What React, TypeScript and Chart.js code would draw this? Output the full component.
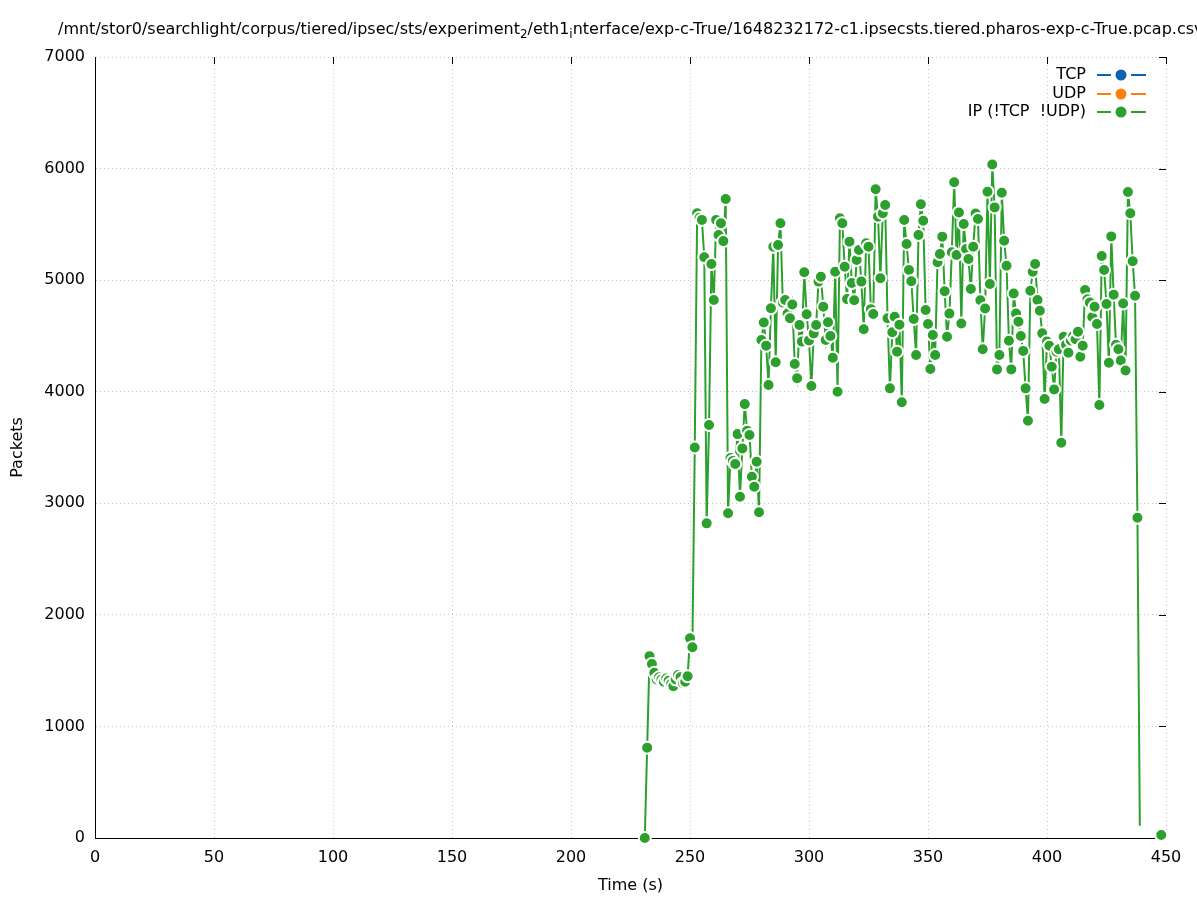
import React, { useEffect, useRef } from "react";
import { Chart, registerables } from "chart.js";

Chart.register(...registerables);

// ---------- text ----------
const TITLE_PARTS = [
  { text: "/mnt/stor0/searchlight/corpus/tiered/ipsec/sts/experiment", sub: false },
  { text: "2", sub: true },
  { text: "/eth1", sub: false },
  { text: "i", sub: true },
  { text: "nterface/exp-c-True/1648232172-c1.ipsecsts.tiered.pharos-exp-c-True.pcap.csv", sub: false },
];
const X_LABEL = "Time (s)";
const Y_LABEL = "Packets";
const SERIES_NAMES = ["TCP", "UDP", "IP (!TCP  !UDP)"];

// ---------- ticks ----------
const X_TICKS = [0, 50, 100, 150, 200, 250, 300, 350, 400, 450];
const Y_TICKS = [0, 1000, 2000, 3000, 4000, 5000, 6000, 7000];

// ---------- data ----------
const TCP_TIMES: number[] = [];
const TCP_PACKETS: number[] = [];
const UDP_TIMES: number[] = [];
const UDP_PACKETS: number[] = [];

// IP (!TCP !UDP): one sample per second starting at 231 s
const IP_START_TIME = 231;
const IP_PACKETS = [
  0, 810, 1630, 1560, 1480, 1420, 1440, 1420, 1400, 1430,
  1410, 1380, 1360, 1420, 1460, 1440, 1390, 1400, 1450, 1790,
  1710, 3500, 5600, 5560, 5540, 5205, 2820, 3702, 5145, 4822,
  5540, 5405, 5510, 5350, 5727, 2910, 3406, 3380, 3352, 3620,
  3058, 3492, 3889, 3650, 3612, 3238, 3149, 3373, 2919, 4463,
  4620, 4413, 4060, 4748, 5300, 4264, 5315, 5510, 4800, 4822,
  4700, 4658, 4782, 4249, 4120, 4598, 4449, 5070, 4694, 4460,
  4051, 4523, 4598, 4987, 5031, 4762, 4463, 4622, 4500, 4305,
  5076, 4000, 5554, 5510, 5120, 4830, 5345, 4975, 4820, 5181,
  5270, 4987, 4560, 5330, 5300, 4740, 4697, 5814, 5569, 5017,
  5600, 5674, 4658, 4030, 4533, 4672, 4359, 4600, 3905, 5539,
  5324, 5091, 4990, 4652, 4329, 5405, 5680, 5533, 4732, 4607,
  4204, 4508, 4329, 5160, 5234, 5390, 4900, 4493, 4700, 5250,
  5877, 5225, 5607, 4612, 5503, 5279, 5190, 4921, 5300, 5598,
  5548, 4820, 4380, 4746, 5792, 4966, 6037, 5652, 4200, 4329,
  5783, 5353, 5129, 4456, 4200, 4881, 4700, 4628, 4500, 4366,
  4030, 3740, 4905, 5075, 5145, 4822, 4726, 4523, 3935, 4450,
  4412, 4224, 4020, 4359, 4380, 3543, 4493, 4420, 4350, 4460,
  4500, 4470, 4538, 4314, 4412, 4912, 4829, 4800, 4670, 4762,
  4607, 3881, 5216, 5091, 4786, 4260, 5392, 4870, 4420, 4380,
  4280, 4790, 4190, 5790, 5600, 5170, 4860, 2870, 110,
];
// samples drawn without a marker
const IP_UNMARKED_TIMES = [439];
// separate trailing sample (not joined to the run above)
const IP_TAIL_TIMES = [448];
const IP_TAIL_PACKETS = [27];

// ---------- style ----------
const FONT = "'DejaVu Sans', sans-serif";
const COLORS = ["#0b62b0", "#ff7f0e", "#2ca02c"];
const W = 1197;
const H = 900;

function buildIpData() {
  const pts: { x: number; y: number | null }[] = IP_PACKETS.map((v, i) => ({
    x: IP_START_TIME + i,
    y: v,
  }));
  const lastT = IP_START_TIME + IP_PACKETS.length - 1;
  pts.push({ x: (lastT + IP_TAIL_TIMES[0]) / 2, y: null });
  IP_TAIL_TIMES.forEach((t, i) => pts.push({ x: t, y: IP_TAIL_PACKETS[i] }));
  return pts;
}

const decorPlugin = {
  id: "gnuplotDecor",
  afterDraw(chart: any) {
    const ctx = chart.ctx as CanvasRenderingContext2D;
    const area = chart.chartArea;
    const xs = chart.scales.x;
    const ys = chart.scales.y;
    ctx.save();

    // mirrored ticks on top and right
    ctx.strokeStyle = "#000";
    ctx.lineWidth = 1;
    ctx.beginPath();
    X_TICKS.forEach((t) => {
      const px = Math.round(xs.getPixelForValue(t)) + 0.5;
      if (t === 0) return;
      ctx.moveTo(px, area.top);
      ctx.lineTo(px, area.top + 7);
    });
    Y_TICKS.forEach((t) => {
      const py = Math.round(ys.getPixelForValue(t)) + 0.5;
      if (t === 0) return;
      ctx.moveTo(area.right, py);
      ctx.lineTo(area.right - 7, py);
    });
    ctx.stroke();

    // title with subscripts
    ctx.fillStyle = "#000";
    ctx.textBaseline = "middle";
    ctx.textAlign = "left";
    let x = 58;
    const ty = 30;
    TITLE_PARTS.forEach((p) => {
      ctx.font = p.sub ? `12px ${FONT}` : `16px ${FONT}`;
      ctx.fillText(p.text, x, p.sub ? ty + 5 : ty);
      x += ctx.measureText(p.text).width;
    });

    // axis titles
    ctx.font = `16px ${FONT}`;
    ctx.textAlign = "center";
    ctx.fillText(X_LABEL, (area.left + area.right) / 2, 886);
    ctx.save();
    ctx.translate(18, (area.top + area.bottom) / 2);
    ctx.rotate(-Math.PI / 2);
    ctx.fillText(Y_LABEL, 0, 0);
    ctx.restore();

    // legend (gnuplot style: text right, sample on its right)
    const legendYs = [75, 94, 112];
    SERIES_NAMES.forEach((name, i) => {
      const y = legendYs[i];
      ctx.font = `16px ${FONT}`;
      ctx.textAlign = "right";
      ctx.fillStyle = "#000";
      ctx.fillText(name, 1086, y);
      ctx.strokeStyle = COLORS[i];
      ctx.lineWidth = 2;
      ctx.beginPath();
      ctx.moveTo(1097, y);
      ctx.lineTo(1111, y);
      ctx.moveTo(1131, y);
      ctx.lineTo(1146, y);
      ctx.stroke();
      ctx.fillStyle = COLORS[i];
      ctx.beginPath();
      ctx.arc(1121, y, 5.5, 0, Math.PI * 2);
      ctx.fill();
    });

    ctx.restore();
  },
};

export default function App() {
  const ref = useRef<HTMLCanvasElement | null>(null);

  useEffect(() => {
    if (!ref.current) return;
    const pointStyle = (color: string) => ({
      borderColor: color,
      backgroundColor: color,
      pointBackgroundColor: color,
      pointBorderColor: "#ffffff",
      pointBorderWidth: 2,
      borderWidth: 2,
      tension: 0,
      spanGaps: false,
      clip: false as any,
    });
    const chart = new Chart(ref.current, {
      type: "line",
      data: {
        datasets: [
          {
            label: SERIES_NAMES[0],
            data: TCP_TIMES.map((t, i) => ({ x: t, y: TCP_PACKETS[i] })),
            ...pointStyle(COLORS[0]),
            pointRadius: 6,
          },
          {
            label: SERIES_NAMES[1],
            data: UDP_TIMES.map((t, i) => ({ x: t, y: UDP_PACKETS[i] })),
            ...pointStyle(COLORS[1]),
            pointRadius: 6,
          },
          {
            label: SERIES_NAMES[2],
            data: buildIpData(),
            ...pointStyle(COLORS[2]),
            pointRadius: (c: any) =>
              c.raw && IP_UNMARKED_TIMES.includes(c.raw.x) ? 0 : 6,
            pointBorderWidth: (c: any) =>
              c.raw && IP_UNMARKED_TIMES.includes(c.raw.x) ? 0 : 2,
          } as any,
        ],
      },
      options: {
        animation: false,
        responsive: false,
        devicePixelRatio: 1,
        events: [],
        layout: { padding: { left: 0, right: W - 1166, top: 57, bottom: 0 } },
        plugins: {
          legend: { display: false },
          title: { display: false },
          tooltip: { enabled: false },
        },
        scales: {
          x: {
            type: "linear",
            min: 0,
            max: 450,
            afterFit: (s: any) => {
              s.height = H - 838;
            },
            afterBuildTicks: (s: any) => {
              s.ticks = X_TICKS.map((v) => ({ value: v }));
            },
            ticks: {
              color: "#000",
              font: { family: FONT, size: 16 },
              padding: 10,
              maxRotation: 0,
              autoSkip: false,
              callback: (v: any) => String(v),
            },
            grid: { color: "#c4c4c4", lineWidth: 1, drawTicks: false },
            border: { display: true, color: "#000", width: 1, dash: [1, 3] },
          },
          y: {
            type: "linear",
            min: 0,
            max: 7000,
            afterFit: (s: any) => {
              s.width = 95;
            },
            afterBuildTicks: (s: any) => {
              s.ticks = Y_TICKS.map((v) => ({ value: v }));
            },
            ticks: {
              color: "#000",
              font: { family: FONT, size: 16 },
              padding: 10,
              autoSkip: false,
              callback: (v: any) => String(v),
            },
            grid: { color: "#c4c4c4", lineWidth: 1, drawTicks: false },
            border: { display: true, color: "#000", width: 1, dash: [1, 3] },
          },
        },
      } as any,
      plugins: [decorPlugin],
    });
    return () => chart.destroy();
  }, []);

  return (
    <div style={{ position: "absolute", left: 0, top: 0, width: W, height: H, background: "#fff" }}>
      <canvas ref={ref} width={W} height={H} style={{ width: W, height: H, display: "block" }} />
    </div>
  );
}
